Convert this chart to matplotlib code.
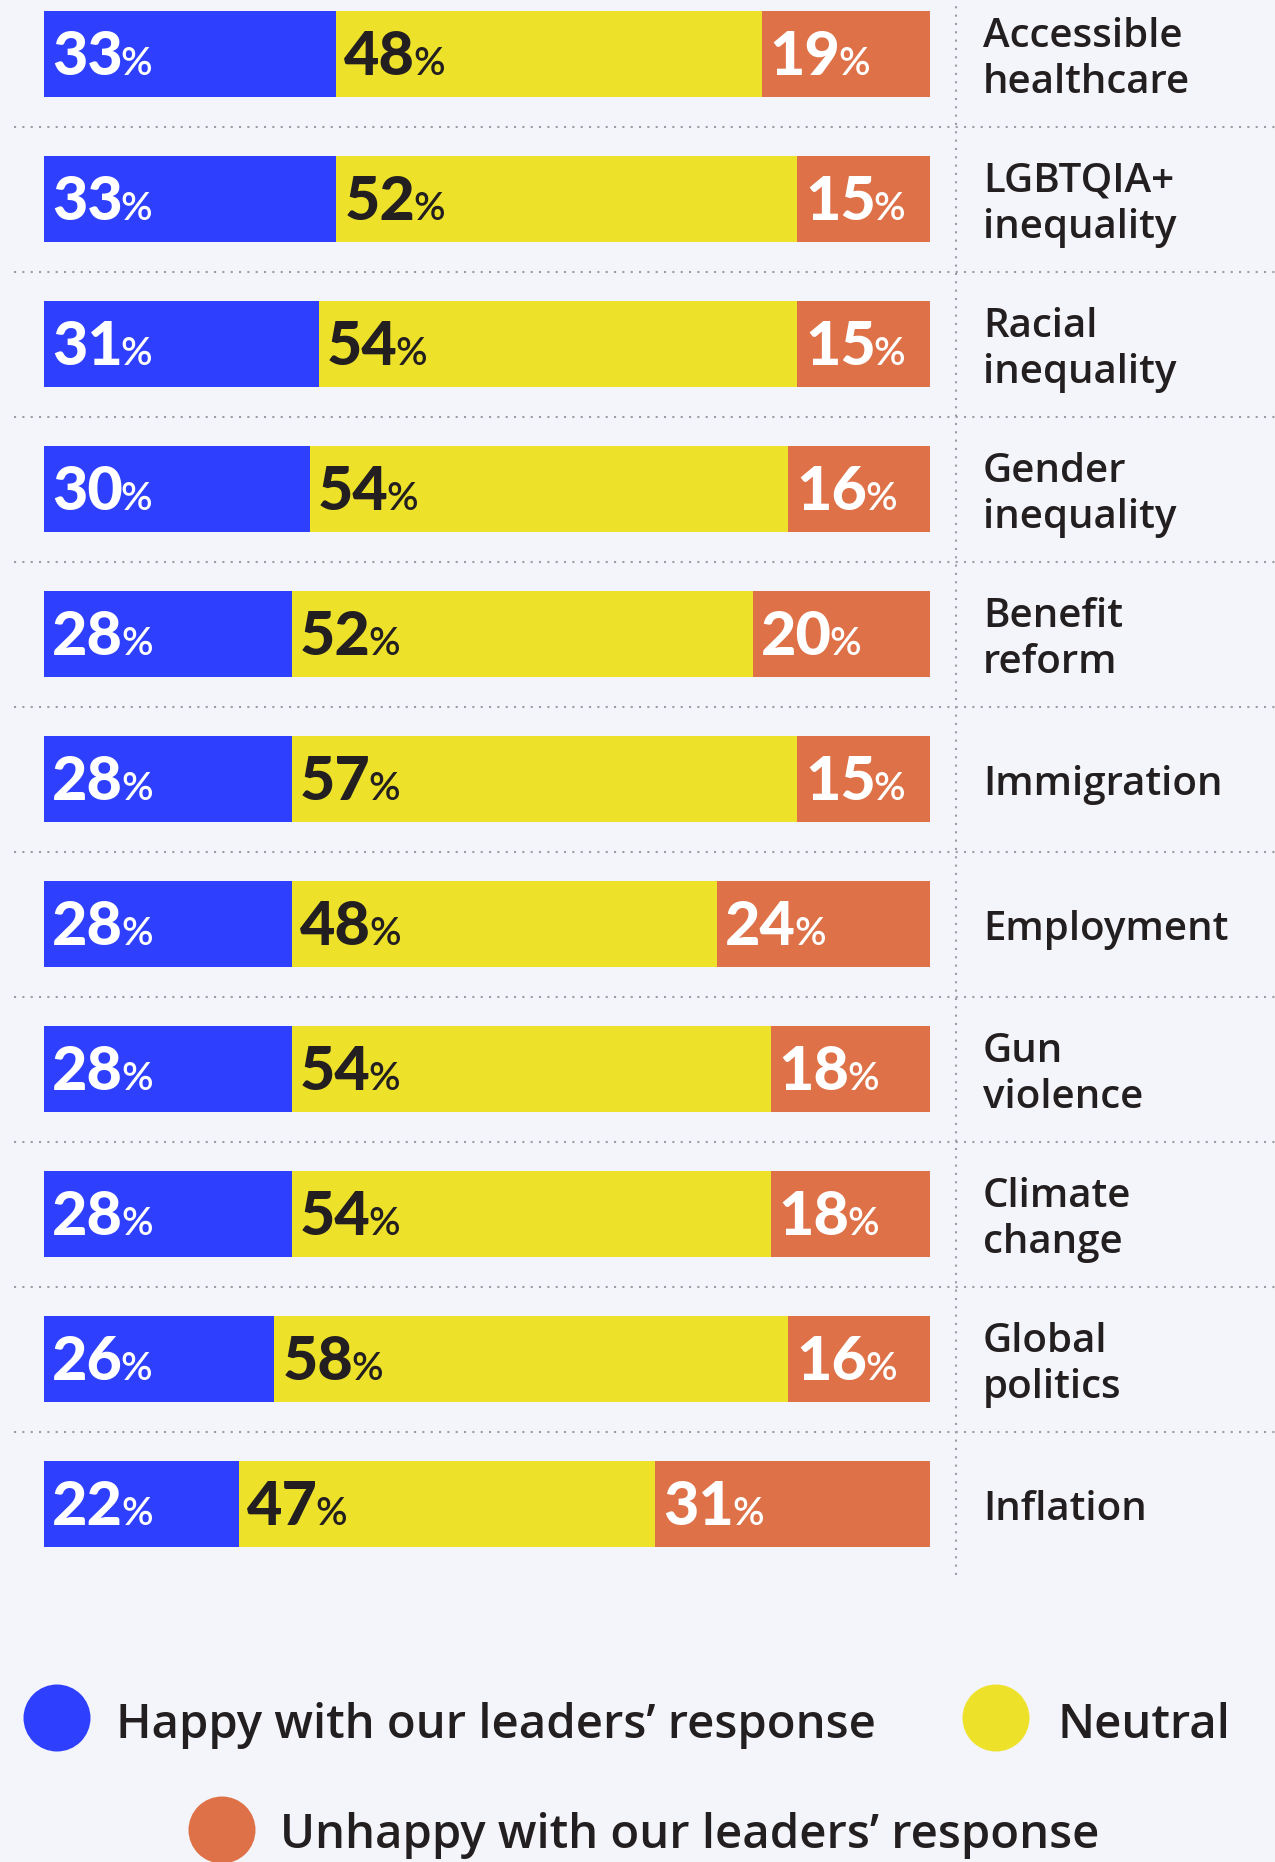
import matplotlib.pyplot as plt
from matplotlib.patches import Circle

plt.rcParams['font.family'] = ['Lato', 'DejaVu Sans']

# survey results, one row per issue (percent of respondents)
issues = ["Accessible\nhealthcare", "LGBTQIA+\ninequality", "Racial\ninequality",
          "Gender\ninequality", "Benefit\nreform", "Immigration", "Employment",
          "Gun\nviolence", "Climate\nchange", "Global\npolitics", "Inflation"]
happy = [33, 33, 31, 30, 28, 28, 28, 28, 28, 26, 22]
neutral = [48, 52, 54, 54, 52, 57, 48, 54, 54, 58, 47]
unhappy = [19, 15, 15, 16, 20, 15, 24, 18, 18, 16, 31]
series_names = ["Happy with our leaders\u2019 response", "Neutral",
                "Unhappy with our leaders\u2019 response"]

BLUE = "#2e40fe"
YELLOW = "#ede229"
ORANGE = "#de7147"
DARK = "#231f20"
BG = "#f4f5fa"
DOT = "#9c9ca4"
LABEL_FONT = ['Open Sans', 'Lato', 'DejaVu Sans']

W, H = 1275, 1862
fig = plt.figure(figsize=(W / 100, H / 100), dpi=100, facecolor=BG)

# pixel layout of the bar area
x0_px, x100_px = 44, 930
row0_px, row_step = 54, 145
bottom_px = 1575
px_per_pct = (x100_px - x0_px) / 100

ax = fig.add_axes([0, 1 - bottom_px / H, 1, bottom_px / H])
ax.set_facecolor(BG)
ax.set_xlim(-x0_px / px_per_pct, (W - x0_px) / px_per_pct)
ax.set_ylim((bottom_px - row0_px) / row_step, -row0_px / row_step)
ax.axis("off")

rows = list(range(len(issues)))
bar_h = 86 / row_step

segments = [(happy, BLUE, "white"), (neutral, YELLOW, DARK), (unhappy, ORANGE, "white")]
left = [0] * len(rows)
for vals, col, tcol in segments:
    ax.barh(rows, vals, left=left, height=bar_h, color=col, linewidth=0)
    for r, v, l in zip(rows, vals, left):
        t = ax.text(l + 0.9, r + 0.145, str(v), color=tcol, fontsize=44,
                    fontweight="black", va="baseline", ha="left")
        ax.annotate("%", xy=(1, r + 0.145), xycoords=(t, "data"),
                    xytext=(-1.5, 0), textcoords="offset points",
                    color=tcol, fontsize=28, fontweight="semibold",
                    va="baseline", ha="left")
    left = [a + b for a, b in zip(left, vals)]

# category names on the right
label_x = (983 - x0_px) / px_per_pct
for r, name in zip(rows, issues):
    ax.text(label_x, r + 0.04, name, color=DARK, fontsize=29, fontweight="semibold",
            family=LABEL_FONT, va="center", ha="left", linespacing=1.2)

# dotted separators
xl = ax.get_xlim()
sep_left = (14 - x0_px) / px_per_pct
for r in rows[:-1]:
    ax.plot([sep_left, xl[1]], [r + 0.5, r + 0.5], color=DOT, lw=1.5,
            linestyle=(0, (1, 3)), dash_capstyle="butt")
vx = (956 - x0_px) / px_per_pct
ax.plot([vx, vx], list(ax.get_ylim()), color=DOT, lw=1.5,
        linestyle=(0, (1, 3)), dash_capstyle="butt")

# legend
legend_items = [
    (series_names[0], BLUE, 57, 1718, 116, 1738),
    (series_names[1], YELLOW, 996, 1718, 1057, 1738),
    (series_names[2], ORANGE, 222, 1830, 280, 1848),
]
for name, col, cx, cy, tx, ty in legend_items:
    fig.add_artist(Circle((cx / 100, (H - cy) / 100), 0.335, color=col,
                          transform=fig.dpi_scale_trans, lw=0))
    fig.text(tx / W, 1 - ty / H, name, color=DARK, fontsize=34,
             fontweight="semibold", family=LABEL_FONT, va="baseline", ha="left")

fig.savefig("out.png", dpi=100, facecolor=BG)
